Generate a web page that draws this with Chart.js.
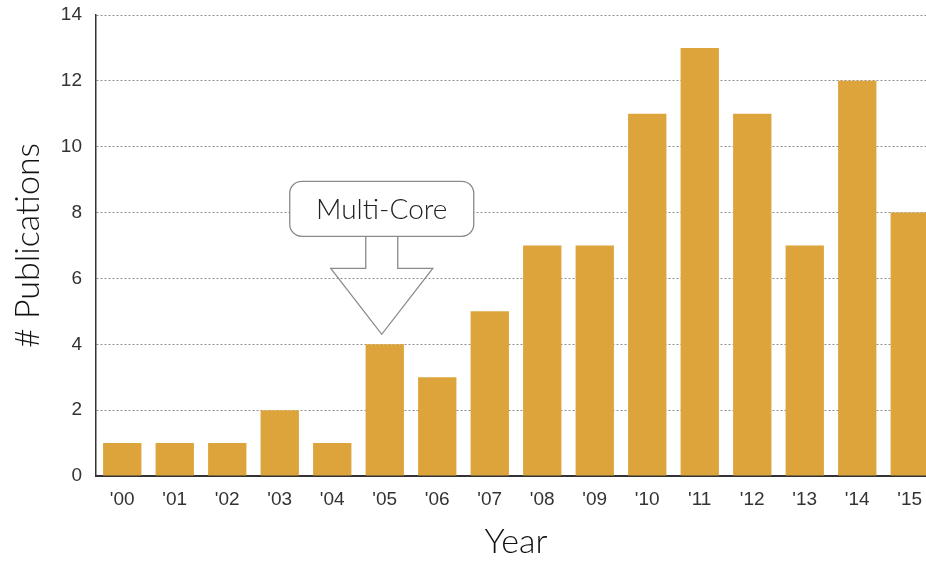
<!DOCTYPE html>
<html>
<head>
<meta charset="utf-8">
<script src="https://cdn.jsdelivr.net/npm/chart.js@4"></script>
<style>
  html, body { margin: 0; padding: 0; background: #fff; overflow: hidden; }
  #wrap { width: 936px; height: 562px; }
</style>
</head>
<body>
<div id="wrap"><canvas id="chart-pubs"></canvas></div>
<script>
const years = ["'00", "'01", "'02", "'03", "'04", "'05", "'06", "'07", "'08", "'09", "'10", "'11", "'12", "'13", "'14", "'15"];
const publications = [1, 1, 1, 2, 1, 4, 3, 5, 7, 7, 11, 13, 11, 7, 12, 8];
const yTicks = [0, 2, 4, 6, 8, 10, 12, 14];
const calloutText = 'Multi-Core';
const calloutIndex = 5;

// hollow callout box with arrow pointing at the multi-core bar
const callout = {
	id: 'callout',
	afterDatasetsDraw(chart) {
		const ctx = chart.ctx;
		const x = chart.scales.x.getPixelForValue(calloutIndex) - 3;
		const tipY = chart.scales.y.getPixelForValue(publications[calloutIndex]) - 10;
		const headY = tipY - 66, stemTop = headY - 32;
		const boxW = 184, boxH = 55, r = 12;
		const bx = x - 92, by = stemTop - boxH;
		ctx.save();
		ctx.strokeStyle = '#8a8a8a';
		ctx.lineWidth = 1.3;
		ctx.fillStyle = '#fff';
		ctx.beginPath();
		ctx.roundRect(bx, by, boxW, boxH, r);
		ctx.fill();
		ctx.stroke();
		ctx.beginPath();
		ctx.moveTo(x - 16, stemTop);
		ctx.lineTo(x - 16, headY);
		ctx.lineTo(x - 51, headY);
		ctx.lineTo(x, tipY);
		ctx.lineTo(x + 51, headY);
		ctx.lineTo(x + 16, headY);
		ctx.lineTo(x + 16, stemTop);
		ctx.stroke();
		ctx.fillStyle = '#222';
		ctx.font = '300 28px Lato';
		ctx.textAlign = 'center';
		ctx.textBaseline = 'middle';
		ctx.fillText(calloutText, bx + boxW / 2, by + boxH / 2 + 1);
		ctx.restore();
	}
};

const ctx = document.getElementById('chart-pubs').getContext('2d');
const myChart = new Chart(ctx, {
	type: 'bar',
	data: {
		labels: years,
		datasets: [{
			data: publications,
			backgroundColor: '#dca43b',
			borderWidth: 0,
			barPercentage: 0.73,
			categoryPercentage: 1
		}]
	},
	options: {
		responsive: true,
		maintainAspectRatio: false,
		animation: false,
		layout: { padding: { top: 15, right: 0, bottom: 0, left: 0 } },
		plugins: {
			legend: { display: false },
			tooltip: { enabled: false }
		},
		scales: {
			x: {
				grid: { display: false, drawTicks: false },
				border: { color: '#333', width: 2 },
				ticks: { color: '#333', font: { family: 'Liberation Sans', size: 19 }, padding: 12 },
				title: { display: true, text: 'Year', color: '#111', font: { family: 'Lato', size: 34, weight: 300 }, padding: { top: 10, bottom: 0 } },
				afterFit(axis) { axis.height = 86; axis.paddingLeft = 0; axis.paddingRight = 0; }
			},
			y: {
				min: 0,
				max: 14,
				afterBuildTicks(axis) { axis.ticks = yTicks.map(v => ({ value: v })); },
				grid: {
					color: (c) => c.tick && c.tick.value === 0 ? 'rgba(0,0,0,0)' : '#8f8f8f',
					drawTicks: false,
					lineWidth: 1
				},
				border: { color: '#333', width: 1.5, dash: [2, 2] },
				ticks: { color: '#333', font: { family: 'Liberation Sans', size: 19 }, padding: 14 },
				title: { display: true, text: '# Publications', color: '#111', font: { family: 'Lato', size: 34, weight: 300 }, padding: { top: 8, bottom: 10 } },
				afterFit(axis) { axis.width = 96; axis.paddingTop = 0; axis.paddingBottom = 0; }
			}
		}
	},
	plugins: [callout]
});
</script>
</body>
</html>
